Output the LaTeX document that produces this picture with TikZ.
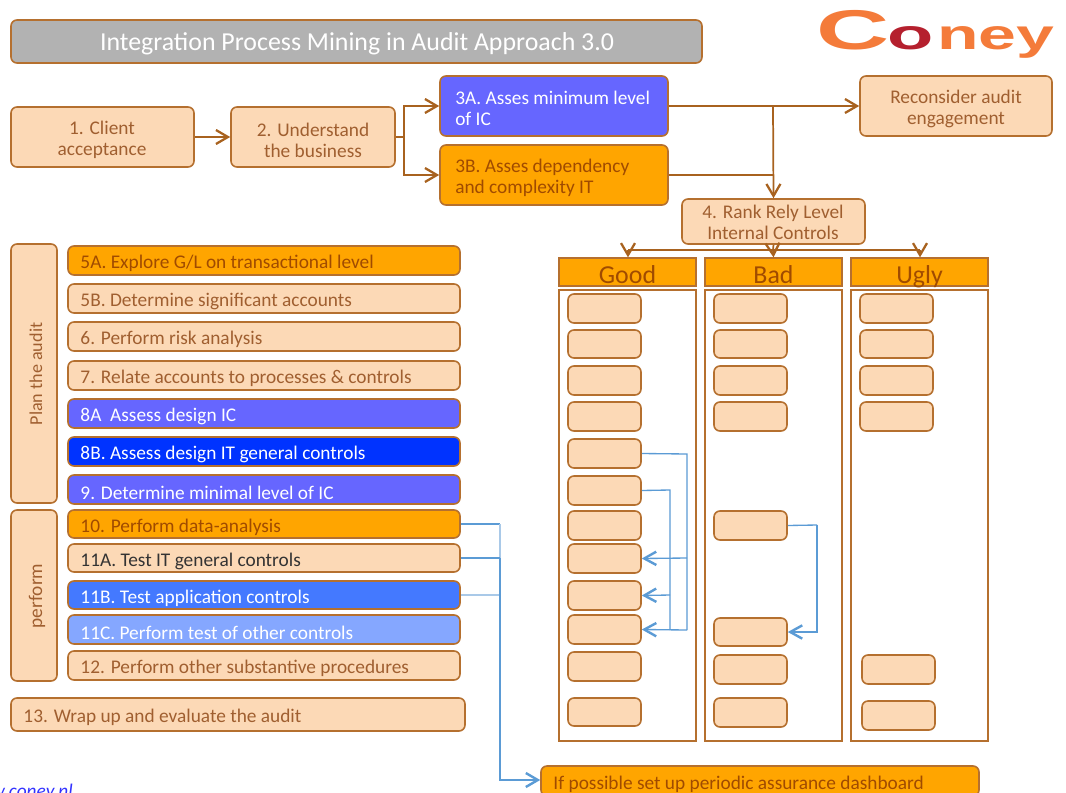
\documentclass[tikz,border=0pt]{standalone}
\usepackage{fontspec}
\setmainfont{Carlito}
\newfontfamily\logofont{Liberation Sans}
\usetikzlibrary{arrows.meta,calc}
\definecolor{peach}{HTML}{FCD9B6}
\definecolor{edgeb}{HTML}{B5702F}
\definecolor{peachtxt}{HTML}{A05F30}
\definecolor{orangef}{HTML}{FFA500}
\definecolor{orangetxt}{HTML}{A04B00}
\definecolor{greyf}{HTML}{B2B2B2}
\definecolor{blueA}{HTML}{6666FF}
\definecolor{blueB}{HTML}{0033FF}
\definecolor{blueC}{HTML}{4479FF}
\definecolor{blueD}{HTML}{85A7FF}
\definecolor{flowb}{HTML}{5B9BD5}
\definecolor{flowl}{HTML}{A9C9E8}
\definecolor{brownl}{HTML}{A8621F}
\definecolor{logoO}{HTML}{F47B3A}
\definecolor{logoR}{HTML}{B5202E}
\tikzset{
  basebox/.style={draw=edgeb,line width=1.2pt,rounded corners=4.5pt,inner sep=0pt},
  peachbox/.style={basebox,fill=peach},
  orangebox/.style={basebox,fill=orangef},
  bluebox/.style={basebox,fill=#1},
  titlebox/.style={basebox,fill=greyf},
  lbl/.style={inner sep=0pt,align=center,font=\fontsize{14.5}{15.8}\selectfont},
  lblleft/.style={lbl,align=left,anchor=west},
  titlelbl/.style={lbl,text=white,font=\fontsize{19.4}{22}\selectfont},
  headbox/.style={draw=edgeb,line width=1pt,fill=orangef,text=orangetxt,inner sep=0pt,text height=16.5pt,text depth=0pt,font=\fontsize{19.4}{22}\selectfont},
  colbox/.style={draw=edgeb,line width=1pt,fill=white,inner sep=0pt},
  minibox/.style={peachbox},
  flow/.style={draw=brownl,line width=1.3pt},
  flowtip/.style={flow,-{Straight Barb[length=9pt,width=10.5pt,line width=1.7pt]}},
  bflow/.style={draw=flowb,line width=1pt},
  bflowtip/.style={bflow,-{Straight Barb[length=9pt,width=10pt,line width=1.8pt]}},
  bpale/.style={draw=flowl,line width=1.5pt},
  bthick/.style={draw=flowb,line width=1.7pt},
}
% \bx{name}{x1}{y1}{x2}{y2}{style}{text}
\newcommand{\bx}[7]{%
  \pgfmathsetmacro{\bxw}{(#4-#2)*0.75}%
  \pgfmathsetmacro{\bxh}{(#5-#3)*0.75}%
  \node[#6,minimum width=\bxw pt,minimum height=\bxh pt] (#1) at ({(#2+#4)/2},{(#3+#5)/2}) {#7};}
% row with left-aligned text: box, then the opening of its text node
\newcommand{\rw}[7]{%
  \bx{#1}{#2}{#3}{#4}{#5}{#6}{}%
  \node[lblleft,#7] at ($(#1.west)+(13,3)$)}
\begin{document}
\begin{tikzpicture}[x=0.75pt,y=-0.75pt]
\useasboundingbox (0,0) rectangle (1066,792);
\clip (0,0) rectangle (1066,792);
% title and logo
\bx{title}{11}{20}{702}{63}{titlebox}{}
\node[titlelbl] (ttitle) at (357,44) {Integration Process Mining in Audit Approach 3.0};
\node[inner sep=0pt,anchor=base west,text=logoO] (logo) at (816,50) {\logofont\bfseries\scalebox{3.8}[2.1]{\fontsize{20}{20}\selectfont C}};
\node[inner sep=0pt,anchor=base west,text=logoR] (logoo) at (887,50) {\logofont\bfseries\scalebox{2.84}[1.6]{\fontsize{20}{20}\selectfont o}};
\node[inner sep=0pt,anchor=base west,text=logoO] (logoney) at (937,50) {\logofont\bfseries\scalebox{2.55}[1.6]{\fontsize{20}{20}\selectfont ney}};
% top flow
\bx{n1}{11}{107}{194}{167}{peachbox}{}
\node[lbl,text=peachtxt] (tn1) at (102,140) {1. Client\\acceptance};
\bx{n2}{231}{107}{395}{167}{peachbox}{}
\node[lbl,text=peachtxt] (tn2) at (313,140) {2. Understand\\the business};
\bx{n3a}{440}{76}{668}{136}{bluebox=blueA}{}
\node[lblleft,text=white] (t3a) at (455,108.5) {3A. Asses minimum level\\of IC};
\bx{n3b}{440}{145}{668}{205}{orangebox}{}
\node[lblleft,text=orangetxt] (t3b) at (455,178) {3B. Asses dependency\\and complexity IT};
\bx{nrec}{860}{76}{1052}{136}{peachbox}{}
\node[lbl,text=peachtxt] (trec) at (956,108.5) {Reconsider audit\\engagement};
\bx{n4}{682}{199}{865}{244}{peachbox}{}
\node[lbl,text=peachtxt] (tn4) at (773,222.5) {4. Rank Rely Level\\Internal Controls};
% columns
\bx{cg}{559}{290}{696}{741}{colbox}{}
\bx{cb}{705}{290}{842}{741}{colbox}{}
\bx{cu}{851}{290}{988}{741}{colbox}{}
\bx{hg}{559}{258}{696}{286}{headbox}{Good}
\bx{hb}{705}{258}{842}{286}{headbox}{Bad}
\bx{hu}{851}{258}{988}{286}{headbox}{Ugly}
% good minis
\bx{g1}{568}{294}{641}{323}{minibox}{}
\bx{g2}{568}{330}{641}{358}{minibox}{}
\bx{g3}{568}{366}{641}{395}{minibox}{}
\bx{g4}{568}{402}{641}{431}{minibox}{}
\bx{g5}{568}{439}{641}{468}{minibox}{}
\bx{g6}{568}{476}{641}{505}{minibox}{}
\bx{g7}{568}{511}{641}{540}{minibox}{}
\bx{g8}{568}{544}{641}{573}{minibox}{}
\bx{g9}{568}{581}{641}{610}{minibox}{}
\bx{g10}{568}{615}{641}{644}{minibox}{}
\bx{g11}{568}{652}{641}{681}{minibox}{}
\bx{g12}{568}{698}{641}{726}{minibox}{}
% bad minis
\bx{b1}{714}{294}{787}{323}{minibox}{}
\bx{b2}{714}{330}{787}{358}{minibox}{}
\bx{b3}{714}{366}{787}{395}{minibox}{}
\bx{b4}{714}{402}{787}{431}{minibox}{}
\bx{b5}{714}{511}{787}{540}{minibox}{}
\bx{b6}{714}{618}{787}{646}{minibox}{}
\bx{b7}{714}{655}{787}{684}{minibox}{}
\bx{b8}{714}{698}{787}{727}{minibox}{}
% ugly minis
\bx{u1}{860}{294}{933}{323}{minibox}{}
\bx{u2}{860}{330}{933}{358}{minibox}{}
\bx{u3}{860}{366}{933}{395}{minibox}{}
\bx{u4}{860}{402}{933}{431}{minibox}{}
\bx{u5}{862}{655}{935}{684}{minibox}{}
\bx{u6}{862}{701}{935}{730}{minibox}{}
% left phases
\bx{plan}{11}{244}{57}{503}{peachbox}{}
\node[rotate=90,text=peachtxt,inner sep=0pt,font=\fontsize{13.6}{15.8}\selectfont] (tplan) at (36,374) {Plan the audit};
\bx{perf}{11}{510}{57}{681}{peachbox}{}
\node[lbl,rotate=90,text=peachtxt] (tperf) at (37,596) {perform};
% rows
\rw{r5a}{68}{246}{460}{275}{orangebox}{text=orangetxt} (t5a) {5A. Explore G/L on transactional level};
\rw{r5b}{68}{284}{460}{313}{peachbox}{text=peachtxt} (t5b) {5B. Determine significant accounts};
\rw{r6}{68}{322}{460}{351}{peachbox}{text=peachtxt} (t6) {6. Perform risk analysis};
\rw{r7}{68}{361}{460}{390}{peachbox}{text=peachtxt} (t7) {7. Relate accounts to processes \& controls};
\rw{r8a}{68}{399}{460}{428}{bluebox=blueA}{text=white} (t8a) {8A\ \ Assess design IC};
\rw{r8b}{68}{437}{460}{466}{bluebox=blueB}{text=white} (t8b) {8B. Assess design IT general controls};
\rw{r9}{68}{475}{460}{504}{bluebox=blueA}{text=white} (t9) {9. Determine minimal level of IC};
\rw{r10}{68}{510}{460}{538}{orangebox}{text=orangetxt} (t10) {10. Perform data-analysis};
\rw{r11a}{68}{544}{460}{572}{peachbox}{text=black!80} (t11a) {11A. Test IT general controls};
\rw{r11b}{68}{581}{460}{609}{bluebox=blueC}{text=white} (t11b) {11B. Test application controls};
\rw{r11c}{68}{615}{460}{644}{bluebox=blueD}{text=white} (t11c) {11C. Perform test of other controls};
\rw{r12}{68}{651}{460}{680}{peachbox}{text=peachtxt} (t12) {12. Perform other substantive procedures};
\rw{r13}{11}{698}{465}{731}{peachbox}{text=peachtxt} (t13) {13. Wrap up and evaluate the audit};
\rw{dash}{541}{766}{979}{796}{orangebox}{text=orangetxt} (tdash) {If possible set up periodic assurance dashboard};
\node[anchor=base east,inner sep=0pt,text=blue!80!white,font=\itshape\fontsize{14.5}{15}\selectfont] (url) at (73,797) {www.coney.nl};
% brown connectors
\coordinate (j2) at (404,137);
\coordinate (j3) at (773,106);
\coordinate (j3b) at (773,175);
\coordinate (j4) at (773,250);
\coordinate (jg) at (628,250);
\coordinate (ju) at (920,250);
\draw[flowtip] (n1.east) -- (n2.west);
\draw[flow] (n2.east) -- (j2);
\draw[flowtip] (j2) |- (n3a.west);
\draw[flowtip] (j2) |- (n3b.west);
\draw[flowtip] (n3a.east) -- (nrec.west);
\draw[flow] (n3b.east) -- (j3b);
\draw[flowtip] (j3) -- (n4.north);
\draw[flow] (n4.south) -- (j4);
\draw[flow] (jg) -- (ju);
\draw[flowtip] (jg) -- (hg.north -| jg);
\draw[flowtip] (j4) -- (hb.north);
\draw[flowtip] (ju) -- (hu.north -| ju);
% blue connectors, right
\coordinate (k5) at (687,454);
\coordinate (k6) at (670,490);
\draw[bflow] (g5.east) -- (k5) -- (687,630);
\draw[bflowtip] (687,558) -- (g8.east);
\draw[bflowtip] (687,630) -- (g10.east);
\draw[bflow] (g6.east) -- (k6) -- (670,630);
\draw[bflowtip] (670,595) -- (g9.east);
\coordinate (k7) at (817,525);
\draw[bflow] (b5.east) -- (k7);
\draw[bflowtip] (k7) |- (b6.east);
% blue connectors, left
\coordinate (m10) at (500,524);
\coordinate (m11a) at (500,558);
\coordinate (m11b) at (500,595);
\draw[bflow] (r10.east) -- (m10);
\draw[bpale] (m10) -- (m11a);
\draw[bflow] (r11a.east) -- (m11a);
\draw[bpale] (r11b.east) -- (m11b);
\draw[bthick,-{Straight Barb[length=9pt,width=10.5pt,line width=1.8pt]}] (m11a) |- (dash.west |- 0,780);
\end{tikzpicture}
\end{document}
